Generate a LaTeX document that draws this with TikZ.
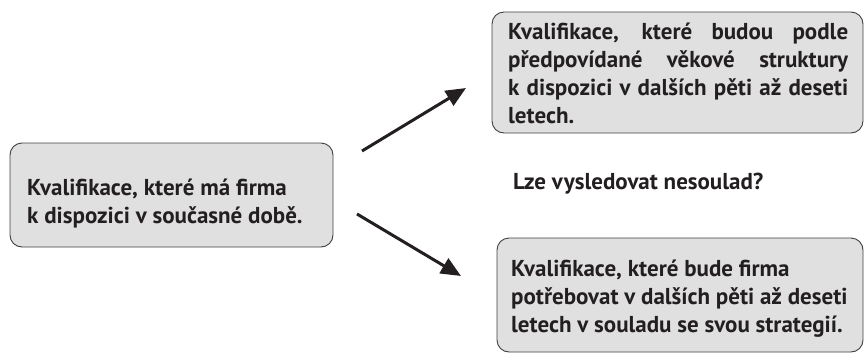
\documentclass[tikz,border=0pt]{standalone}
\usepackage{fontspec}
\setmainfont{PT Sans}
\usetikzlibrary{arrows.meta}
\definecolor{ink}{HTML}{231F20}
\definecolor{boxfill}{HTML}{E0E0E0}
\definecolor{boxline}{HTML}{404040}
\tikzset{
  box/.style={draw=boxline, line width=0.9pt, fill=boxfill, rounded corners=12pt, inner sep=0pt},
  txt/.style={text=ink, font=\bfseries\fontsize{23}{28}\selectfont, align=left, inner sep=0pt},
  arr/.style={draw=ink, line width=3pt, -{Triangle[length=20pt,width=17pt]}}
}
\begin{document}
\begin{tikzpicture}[x=1pt,y=-1pt]
\useasboundingbox (0,0) rectangle (865,354);
% boxes
\node[box, minimum width=323pt, minimum height=104pt] (lbox) at (171.5,195) {};
\node[box, minimum width=371pt, minimum height=121pt] (tbox) at (677.5,72.5) {};
\node[box, minimum width=366pt, minimum height=114pt] (bbox) at (680,295) {};
% texts
\node[txt, anchor=west] (ltext) at (27,204) {Kvalifikace, které má firma\\k dispozici v současné době.};
\node[txt, anchor=west] (ttext) at (508,73) {\makebox[340pt][s]{Kvalifikace, které budou podle}\\\makebox[340pt][s]{předpovídané věkové struktury}\\\makebox[340pt][s]{k dispozici v dalších pěti až deseti}\\letech.};
\node[txt, anchor=west] (mtext) at (513,184) {Lze vysledovat nesoulad?};
\node[txt, anchor=west] (btext) at (511,299) {Kvalifikace, které bude firma\\potřebovat v dalších pěti až deseti\\letech v souladu se svou strategií.};
% arrows
\coordinate (a1s) at (362,151);
\coordinate (a1e) at (466,88);
\coordinate (a2s) at (357,214);
\coordinate (a2e) at (461,276);
\draw[arr] (a1s) -- (a1e);
\draw[arr] (a2s) -- (a2e);
\end{tikzpicture}
\end{document}
